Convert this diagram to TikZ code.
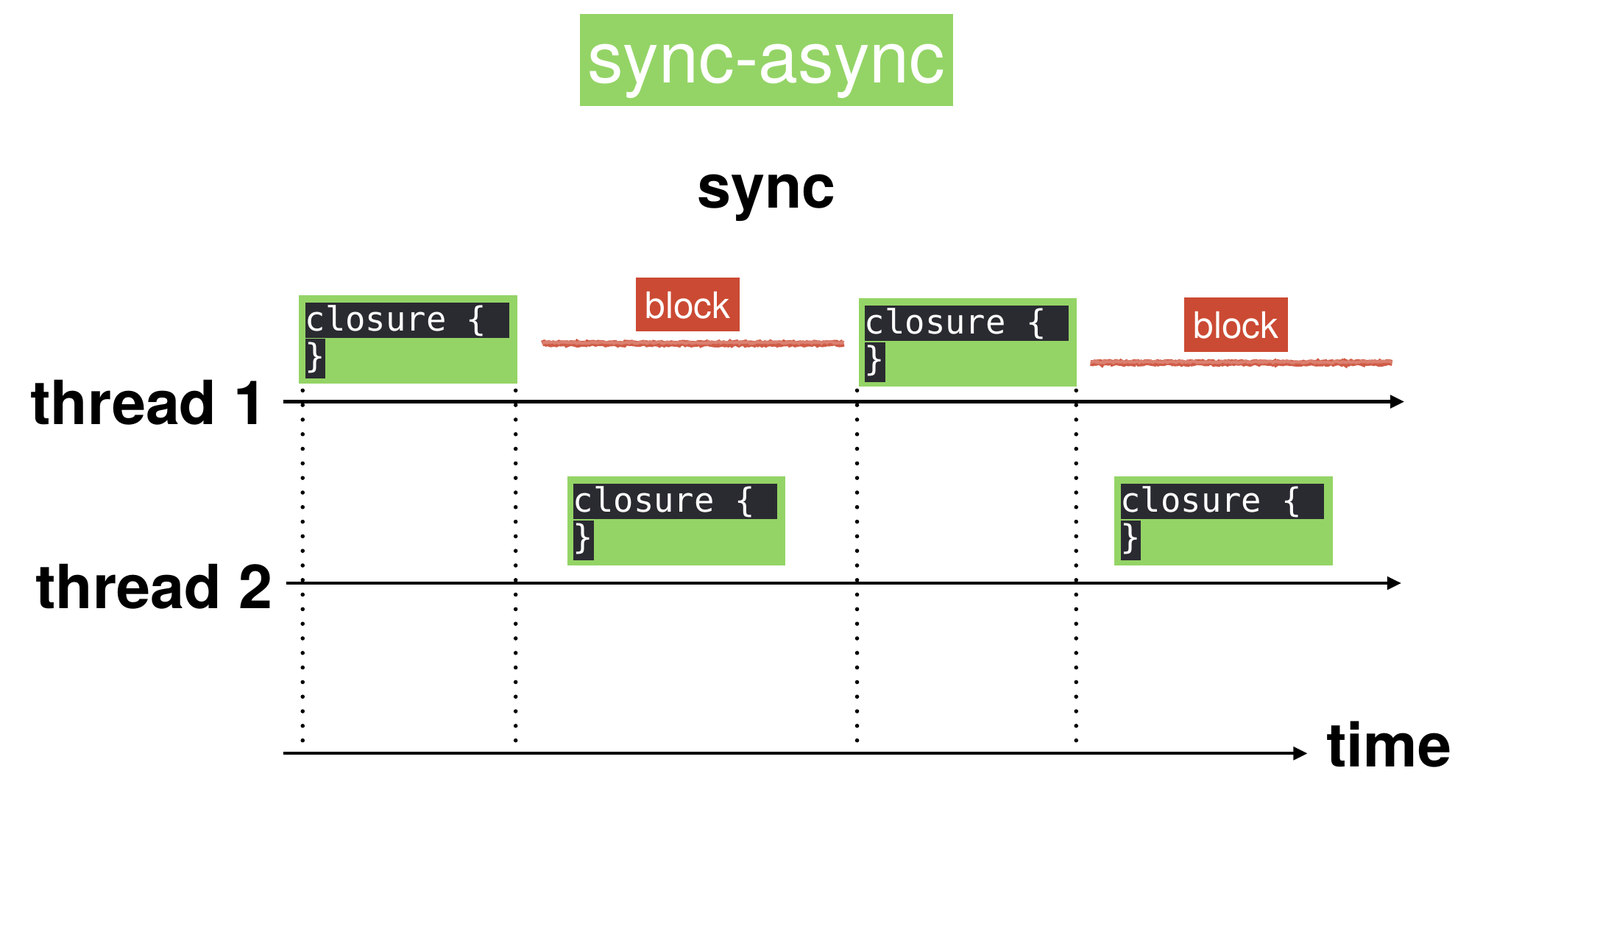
\documentclass[tikz,border=0pt]{standalone}
\usepackage{fontspec}
\setmainfont{TeX Gyre Heros}
\newfontfamily\codefont{DejaVu Sans Mono}
\usetikzlibrary{arrows.meta,positioning,decorations.pathmorphing}
\definecolor{codegreen}{HTML}{94D466}
\definecolor{blockred}{HTML}{CB4A33}
\definecolor{codedark}{HTML}{2A2B31}
\tikzset{
  closure/.style={fill=codegreen, inner sep=0, minimum width=3cm, minimum height=1.218cm, anchor=north west},
  codeline/.style={fill=codedark, text=white, font=\codefont\fontsize{13.1}{15}\selectfont, inner sep=0, align=left, anchor=north west},
  blocklbl/.style={fill=blockred, text=white, font=\fontsize{14.3}{16}\selectfont, inner sep=0, minimum width=1.428cm, text height=0.56cm, text depth=0.182cm},
  lbl/.style={font=\bfseries\fontsize{23.8}{28}\selectfont, inner sep=0},
  axis/.style={line width=1.2pt, -{Triangle[length=5.5pt,width=5pt]}},
  dots/.style={line width=1.6pt, line cap=round, dash pattern=on 0pt off 5.7pt},
  scribble/.style={blockred!90!white, line width=2.3pt, decorate, decoration={random steps, segment length=0.7pt, amplitude=0.35pt}}
}
\begin{document}
\begin{tikzpicture}[x=0.014cm,y=-0.014cm]
\useasboundingbox (0,0) rectangle (1570,920);
\node[fill=codegreen, text=white, font=\fontsize{28}{30}\selectfont, inner sep=0, minimum width=5.124cm, text height=0.938cm, text depth=0.322cm] (title) at (752,59) {sync-async};
\node[lbl, anchor=base] (sync) at (752,204) {sync};
\node[lbl, anchor=base east] (th1) at (263,416) {thread 1};
\node[lbl, anchor=base east] (th2) at (268,597) {thread 2};
\node[lbl, anchor=base west] (time) at (1301,752) {time};
\coordinate (th1s) at (278,394);
\coordinate (th1e) at (1378,394);
\coordinate (th2s) at (281,572);
\coordinate (th2e) at (1375,572);
\coordinate (times) at (278,739);
\coordinate (timee) at (1283,739);
\foreach \x in {297,506,841,1056}
  \draw[dots] (\x,383) -- (\x,727);
\draw[axis] (th1s) -- (th1e);
\draw[axis] (th2s) -- (th2e);
\draw[axis] (times) -- (timee);
\foreach \n/\x/\y in {c1/293/289, c2/842/292, c3/556/467, c4/1093/467} {
  \node[closure] (\n) at (\x,\y) {};
  \node[codeline, text width=2.8cm, text height=0.392cm, text depth=0.098cm] (\n-1) at ([shift={(6,7)}]\n.north west) {closure\hspace*{0.602em}\{};
  \node[codeline, text width=0.28cm, text height=0.392cm, text depth=0.154cm] (\n-2) at (\n-1.south west) {\}};
}
\node[blocklbl] (b1) at (675,298.5) {block};
\node[blocklbl] (b2) at (1213,318.5) {block};
\draw[scribble] (532,337) -- (828,337);
\draw[scribble, blockred!70!white, line width=1.2pt] (532,336) -- (828,336);
\draw[scribble] (1070,356) -- (1366,356);
\draw[scribble, blockred!70!white, line width=1.2pt] (1070,355) -- (1366,355);
\end{tikzpicture}
\end{document}
